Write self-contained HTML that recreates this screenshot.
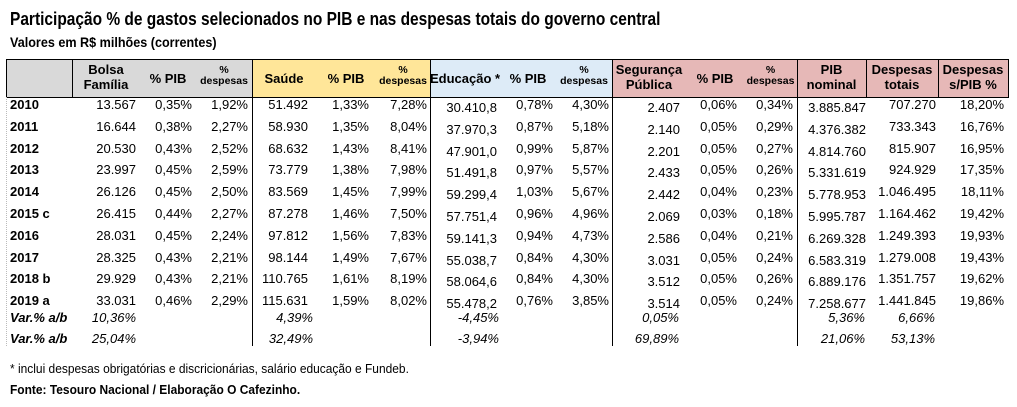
<!DOCTYPE html>
<html><head><meta charset="utf-8">
<style>
body{margin:0;width:1017px;height:407px;background:#fff;position:relative;overflow:hidden;font-family:"Liberation Sans",Arial,sans-serif;color:#000}
.a{position:absolute;white-space:nowrap}
.r{text-align:right}
.c{text-align:center}
.t{font-size:13px;line-height:16px}
.h{font-weight:bold;font-size:13px;line-height:15px}
.hs{font-weight:bold;font-size:10.5px;line-height:11px}
.bg{position:absolute}
.vl{position:absolute;width:1px;background:#000}
</style></head><body>
<div class="a" style="left:10px;top:9px;font-size:18px;font-weight:bold;transform:scaleX(0.86);transform-origin:left">Participação % de gastos selecionados no PIB e nas despesas totais do governo central</div>
<div class="a" style="left:10px;top:34px;font-size:14px;font-weight:bold;transform:scaleX(0.9);transform-origin:left">Valores em R$ milhões (correntes)</div>
<div id="tbl"></div>
<div class="a" style="left:10px;top:361px;font-size:13px;transform:scaleX(0.92);transform-origin:left">* inclui despesas obrigatórias e discricionárias, salário educação e Fundeb.</div>
<div class="a" style="left:10px;top:382px;font-size:13px;font-weight:bold;transform:scaleX(0.92);transform-origin:left">Fonte: Tesouro Nacional / Elaboração O Cafezinho.</div>
<script>
const years=["2010","2011","2012","2013","2014","2015 c","2016","2017","2018 b","2019 a"];
const bolsa=["13.567","16.644","20.530","23.997","26.126","26.415","28.031","28.325","29.929","33.031"];
const bolsaPib=["0,35%","0,38%","0,43%","0,45%","0,45%","0,44%","0,45%","0,43%","0,43%","0,46%"];
const bolsaDesp=["1,92%","2,27%","2,52%","2,59%","2,50%","2,27%","2,24%","2,21%","2,21%","2,29%"];
const saude=["51.492","58.930","68.632","73.779","83.569","87.278","97.812","98.144","110.765","115.631"];
const saudePib=["1,33%","1,35%","1,43%","1,38%","1,45%","1,46%","1,56%","1,49%","1,61%","1,59%"];
const saudeDesp=["7,28%","8,04%","8,41%","7,98%","7,99%","7,50%","7,83%","7,67%","8,19%","8,02%"];
const edu=["30.410,8","37.970,3","47.901,0","51.491,8","59.299,4","57.751,4","59.141,3","55.038,7","58.064,6","55.478,2"];
const eduPib=["0,78%","0,87%","0,99%","0,97%","1,03%","0,96%","0,94%","0,84%","0,84%","0,76%"];
const eduDesp=["4,30%","5,18%","5,87%","5,57%","5,67%","4,96%","4,73%","4,30%","4,30%","3,85%"];
const seg=["2.407","2.140","2.201","2.433","2.442","2.069","2.586","3.031","3.512","3.514"];
const segPib=["0,06%","0,05%","0,05%","0,05%","0,04%","0,03%","0,04%","0,05%","0,05%","0,05%"];
const segDesp=["0,34%","0,29%","0,27%","0,26%","0,23%","0,18%","0,21%","0,24%","0,26%","0,24%"];
const pib=["3.885.847","4.376.382","4.814.760","5.331.619","5.778.953","5.995.787","6.269.328","6.583.319","6.889.176","7.258.677"];
const desp=["707.270","733.343","815.907","924.929","1.046.495","1.164.462","1.249.393","1.279.008","1.351.757","1.441.845"];
const despPib=["18,20%","16,76%","16,95%","17,35%","18,11%","19,42%","19,93%","19,43%","19,62%","19,86%"];
const varA=["10,36%","4,39%","-4,45%","0,05%","5,36%","6,66%"];
const varB=["25,04%","32,49%","-3,94%","69,89%","21,06%","53,13%"];
const headers=["","Bolsa<br>Família","% PIB","%<br>despesas","Saúde","% PIB","%<br>despesas","Educação *","% PIB","%<br>despesas","Segurança<br>Pública","% PIB","%<br>despesas","PIB<br>nominal","Despesas<br>totais","Despesas<br>s/PIB %"];
const edges=[6,72,140,196,252,316,376,430,500,556,612,686,744,797,866,938,1008];
const rightX=[0,136,192,248,308,369,427,497,553,609,680,737,793,866,936,1004];
const cols=[years,bolsa,bolsaPib,bolsaDesp,saude,saudePib,saudeDesp,edu,eduPib,eduDesp,seg,segPib,segDesp,pib,desp,despPib];
const colors=["#d9d9d9","#d9d9d9","#d9d9d9","#d9d9d9","#ffe699","#ffe699","#ffe699","#ddebf7","#ddebf7","#ddebf7","#e6b8b7","#e6b8b7","#e6b8b7","#e6b8b7","#e6b8b7","#e6b8b7"];
const T=document.getElementById('tbl');
function add(html,cls,style){const d=document.createElement('div');d.className=cls;d.style.cssText=style;d.innerHTML=html;T.appendChild(d);return d;}
for(let i=0;i<16;i++){
 const b=add("","bg",`left:${edges[i]}px;top:60px;width:${edges[i+1]-edges[i]}px;height:37px;background:${colors[i]}`);
 
 
}
const hb=add("","bg",`left:6px;top:59px;width:1001px;height:37px;border:1px solid #000`);


[72,252,430,612,797,866,938].forEach(x=>{
 const v=add("","vl",`left:${x}px;top:60px;height:37px`);
 
 
});
for(let i=1;i<16;i++){
 const small=headers[i].startsWith('%<br>');
 const two=headers[i].includes('<br>');
 const cls='a c '+(small?'hs':'h');
 const top=two?(small?65:62):71;
 const w=edges[i+1]-edges[i];
 const d=add(headers[i],cls,`left:${edges[i]}px;top:${top}px;width:${w}px`);
 
 
}
[252,430,612,797].forEach(x=>{
 const v=add("","vl",`left:${x}px;top:97px;height:249px`);
 
 
});
const ld=add("","bg",`left:6px;top:97px;width:0;height:249px;border-left:1px dotted #bbb`);


for(let r=0;r<years.length;r++){
 const y=97+r*21.8;
 for(let c=0;c<16;c++){
  let d;
  if(c===0){d=add(cols[c][r],'a t',`left:10px;top:${y}px;font-weight:bold`);}
  else{
   const bump=(c===7||c===10||c===13)?3:0;
   d=add(cols[c][r],'a t r',`right:${1017-rightX[c]}px;top:${y+bump}px`);
   
  }
  
 }
}
const varX=[136,313,499,679,865,935];
[[varA,310],[varB,331]].forEach(([arr,y],k)=>{
 const l=add("Var.% a/b","a t",`left:10px;top:${y}px;font-weight:bold;font-style:italic`);
 
 
 arr.forEach((v,i)=>{
  const d=add(v,"a t r",`right:${1017-varX[i]}px;top:${y}px;font-style:italic`);
  
  
 });
});
</script>
</body></html>
